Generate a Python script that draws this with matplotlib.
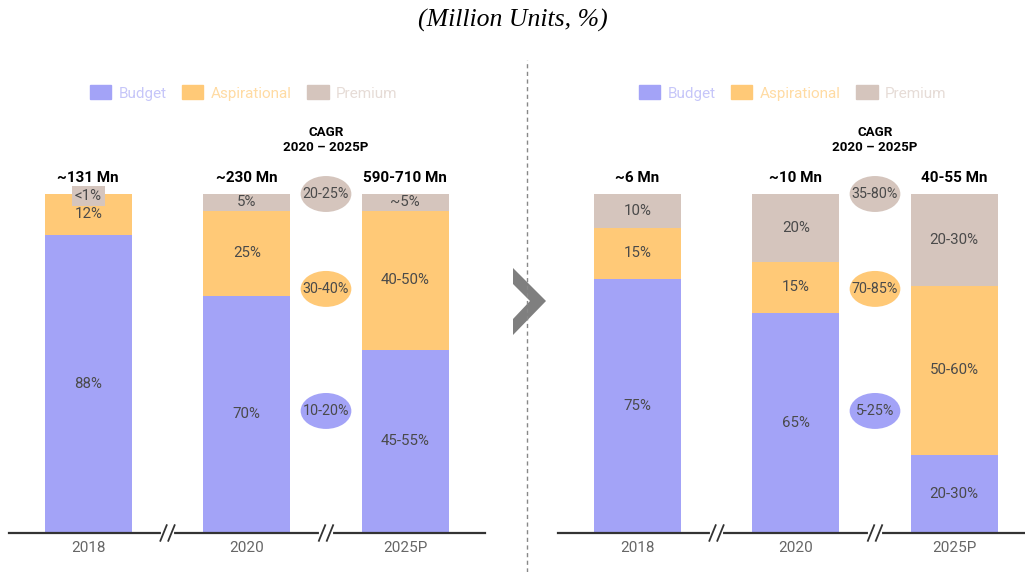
import numpy as np
import matplotlib.pyplot as plt
from matplotlib.patches import Ellipse, Polygon, Patch
from matplotlib.lines import Line2D

plt.rcParams['font.family'] = ['Roboto', 'DejaVu Sans']

years = ['2018', '2020', '2025P']
segments = ['Budget', 'Aspirational', 'Premium']

# left panel (all units)
left_budget = [88, 70, 54]
left_asp = [12, 25, 41]
left_prem = [0, 5, 5]
left_budget_lbl = ['88%', '70%', '45-55%']
left_asp_lbl = ['12%', '25%', '40-50%']
left_prem_lbl = ['<1%', '5%', '~5%']
left_totals = ['~131 Mn', '~230 Mn', '590-710 Mn']
left_cagr = ['10-20%', '30-40%', '20-25%']   # budget, aspirational, premium

# right panel
right_budget = [75, 65, 23]
right_asp = [15, 15, 50]
right_prem = [10, 20, 27]
right_budget_lbl = ['75%', '65%', '20-30%']
right_asp_lbl = ['15%', '15%', '50-60%']
right_prem_lbl = ['10%', '20%', '20-30%']
right_totals = ['~6 Mn', '~10 Mn', '40-55 Mn']
right_cagr = ['5-25%', '70-85%', '35-80%']

c_budget = '#A3A3F7'
c_asp = '#FFC977'
c_prem = '#D5C5BD'
leg_txt = ['#C6C6F9', '#FFDBA3', '#E6DCD7']
lab_col = '#4a4a4a'

W, H = 1025, 572
fig = plt.figure(figsize=(W / 100, H / 100), dpi=100)

base_px = 533
unit_px = 3.39  # pixels per percent
ppu = 158.5     # pixels per x unit


def make_ax(left_px, xmin, xmax):
    bottom = (H - base_px) / H
    height = 1 - bottom
    width = (xmax - xmin) * ppu / W
    ax = fig.add_axes([left_px / W, bottom, width, height])
    ax.set_xlim(xmin, xmax)
    ax.set_ylim(0, height * H / unit_px)
    return ax


def panel(ax, bud, asp, prem, bl, al, pl, totals, cagr):
    x = np.arange(len(years))
    w = 0.55
    ax.bar(x, bud, w, color=c_budget, linewidth=0)
    ax.bar(x, asp, w, bottom=bud, color=c_asp, linewidth=0)
    b2 = np.array(bud) + np.array(asp)
    ax.bar(x, prem, w, bottom=b2, color=c_prem, linewidth=0)
    fs = 10.8
    for i in range(len(x)):
        ax.text(x[i], bud[i] / 2, bl[i], ha='center', va='center', fontsize=fs, color=lab_col)
        ax.text(x[i], bud[i] + asp[i] / 2, al[i], ha='center', va='center', fontsize=fs, color=lab_col)
        if prem[i] == 0:
            ax.text(x[i], b2[i] - 0.6, pl[i], ha='center', va='center', fontsize=fs, color=lab_col,
                    bbox=dict(boxstyle='square,pad=0.2', fc=c_prem, ec='none'))
        else:
            ax.text(x[i], b2[i] + prem[i] / 2, pl[i], ha='center', va='center', fontsize=fs, color=lab_col)
        ax.text(x[i], 104.8, totals[i], ha='center', va='center', fontsize=11,
                fontweight='bold', color='black')
    ax.text(1.5, 116.0, 'CAGR\n2020 – 2025P', ha='center', va='center', fontsize=9.6,
            fontweight='bold', linespacing=1.15)
    for yy, col, t in zip([36, 72, 100], [c_budget, c_asp, c_prem], cagr):
        ax.add_patch(Ellipse((1.5, yy), 0.32, 10.6, fc=col, ec='none', clip_on=False))
        ax.text(1.5, yy, t, ha='center', va='center', fontsize=10.3, color=lab_col)

    for s in ['top', 'right', 'left']:
        ax.spines[s].set_visible(False)
    ax.spines['bottom'].set_color('#333333')
    ax.spines['bottom'].set_linewidth(1.6)
    ax.set_yticks([])
    ax.set_xticks(x)
    ax.set_xticklabels(years, fontsize=11, color='#666666')
    ax.tick_params(axis='x', length=0, pad=6)

    # axis breaks
    for bx in [0.5, 1.5]:
        ax.plot([bx - 0.03, bx + 0.03], [0, 0], color='white', lw=3, clip_on=False, zorder=5)
        for off in [-0.025, 0.025]:
            ax.plot([bx + off - 0.02, bx + off + 0.02], [-2.3, 2.3], color='#333333', lw=1.3,
                    clip_on=False, zorder=6)

    handles = [Patch(color=c) for c in [c_budget, c_asp, c_prem]]
    ax.legend(handles, segments, loc='center', bbox_to_anchor=(0.98, 129.8),
              bbox_transform=ax.transData, ncol=3, frameon=False, fontsize=11,
              labelcolor=leg_txt, handlelength=1.4, handleheight=1.0,
              handletextpad=0.5, columnspacing=1.0)


axL = make_ax(9, -0.5, 2.5)
panel(axL, left_budget, left_asp, left_prem, left_budget_lbl, left_asp_lbl,
      left_prem_lbl, left_totals, left_cagr)
axR = make_ax(558, -0.5, 2.45)
panel(axR, right_budget, right_asp, right_prem, right_budget_lbl, right_asp_lbl,
      right_prem_lbl, right_totals, right_cagr)

# title
fig.text(0.5, 1 - 20 / H, '(Million Units, %)', ha='center', va='center',
         fontsize=18.5, style='italic', family='Liberation Serif')

# divider and chevron
fig.add_artist(Line2D([527 / W, 527 / W], [0, 1 - 60 / H], color='#888888', lw=1,
                      linestyle=(0, (3, 2.5))))
pts = [(513, 268), (546, 301), (513, 335), (513, 319), (530, 301), (513, 284)]
fig.add_artist(Polygon([(px / W, 1 - py / H) for px, py in pts], closed=True,
                       fc='#7f7f7f', ec='none'))

fig.savefig('out.png', dpi=100)
